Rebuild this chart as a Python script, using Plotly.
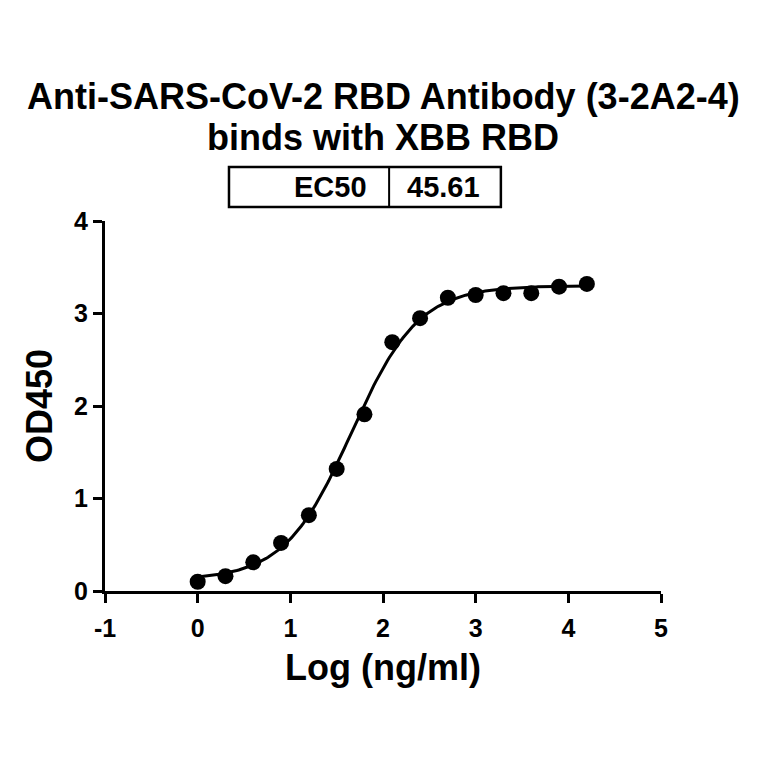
import numpy as np
import plotly.graph_objects as go

# measured points (log concentration vs OD450)
log_conc = [0, 0.3, 0.6, 0.9, 1.2, 1.5, 1.8, 2.1, 2.4, 2.7, 3.0, 3.3, 3.6, 3.9, 4.2]
od450 = [0.10, 0.16, 0.31, 0.52, 0.82, 1.32, 1.91, 2.69, 2.95, 3.17, 3.20, 3.22, 3.22, 3.29, 3.32]

x_ticks = [-1, 0, 1, 2, 3, 4, 5]
x_ticktext = ["-1", "0", "1", "2", "3", "4", "5"]
y_ticks = [0, 1, 2, 3, 4]

# 4PL fit parameters
ec50 = 45.61
bottom = 0.12
top = 3.30
hill = 1.2

x_fit = np.linspace(min(log_conc), max(log_conc), 200)
y_fit = bottom + (top - bottom) / (1 + 10 ** ((np.log10(ec50) - x_fit) * hill))

font_main = "Liberation Sans, Arial, sans-serif"

fig = go.Figure()
fig.add_trace(go.Scatter(x=x_fit, y=y_fit, mode="lines",
                         line=dict(color="black", width=3), showlegend=False))
fig.add_trace(go.Scatter(x=log_conc, y=od450, mode="markers",
                         marker=dict(color="black", size=16), showlegend=False))

fig.update_layout(
    width=764, height=764,
    margin=dict(l=97, r=111, t=213, b=181),
    plot_bgcolor="white", paper_bgcolor="white",
    font=dict(family=font_main, color="black"),
)
fig.update_xaxes(range=[-1, 5], tickvals=x_ticks, ticktext=x_ticktext,
                 showline=True, linecolor="black", linewidth=3, mirror=False,
                 ticks="outside", ticklen=9, tickwidth=3, tickcolor="black",
                 showgrid=False, zeroline=False, ticklabelstandoff=4,
                 tickfont=dict(size=25, weight="bold"),
                 title=dict(text="<b>Log (ng/ml)</b>", font=dict(size=36), standoff=14))
fig.update_yaxes(range=[0, 4], tickvals=y_ticks,
                 showline=True, linecolor="black", linewidth=3, mirror=False,
                 ticks="outside", ticklen=9, tickwidth=3, tickcolor="black",
                 showgrid=False, zeroline=False,
                 tickfont=dict(size=25, weight="bold"),
                 title=dict(text="<b>OD450</b>", font=dict(size=36), standoff=11))

# two-line title
fig.add_annotation(xref="paper", yref="paper", x=0.5, y=1.336,
                   text="<b>Anti-SARS-CoV-2 RBD Antibody (3-2A2-4)</b>", showarrow=False,
                   xanchor="center", yanchor="middle", font=dict(size=36))
fig.add_annotation(xref="paper", yref="paper", x=0.5, y=1.225,
                   text="<b>binds with XBB RBD</b>", showarrow=False,
                   xanchor="center", yanchor="middle", font=dict(size=36))

# EC50 table above the plot
box_x0, box_x1, box_div = 0.223, 0.712, 0.511
box_y0, box_y1 = 1.038, 1.146
fig.add_shape(type="rect", xref="paper", yref="paper",
              x0=box_x0, x1=box_x1, y0=box_y0, y1=box_y1,
              line=dict(color="black", width=2.5))
fig.add_shape(type="line", xref="paper", yref="paper",
              x0=box_div, x1=box_div, y0=box_y0, y1=box_y1,
              line=dict(color="black", width=2))
fig.add_annotation(xref="paper", yref="paper", x=0.475, y=1.092,
                   text="<b>EC50</b>", showarrow=False, xanchor="right", yanchor="middle",
                   font=dict(size=29))
fig.add_annotation(xref="paper", yref="paper", x=0.540, y=1.092,
                   text="<b>%.2f</b>" % ec50, showarrow=False, xanchor="left", yanchor="middle",
                   font=dict(size=29))

fig.write_html("out.html")
